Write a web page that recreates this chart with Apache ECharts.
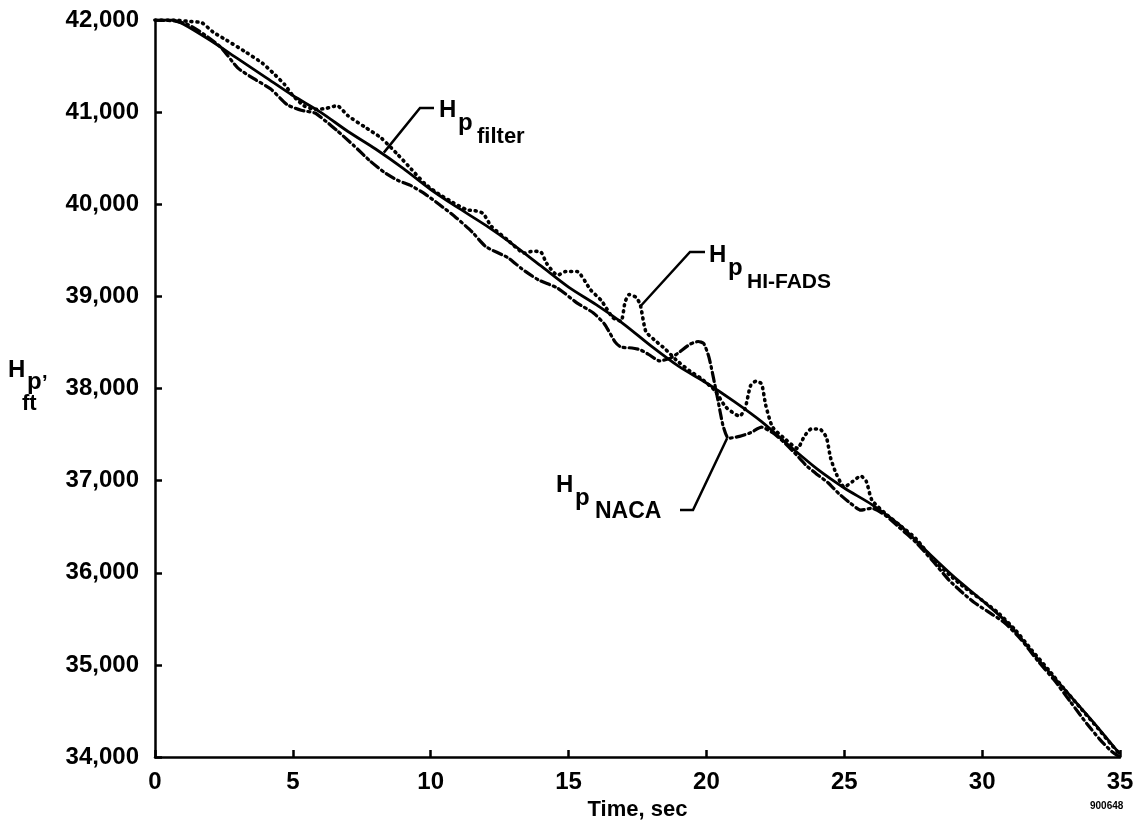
<!DOCTYPE html>
<html>
<head>
<meta charset="utf-8">
<script src="https://cdn.jsdelivr.net/npm/echarts/dist/echarts.min.js"></script>
<style>
html,body{margin:0;padding:0;background:#fff;}
#chart{width:1145px;height:839px;}
</style>
</head>
<body>
<div id="chart"></div>
<script>
// ---- data (time in sec, pressure altitude in ft) ----
var xTicks = [0, 5, 10, 15, 20, 25, 30, 35];
var yTicks = [34000, 35000, 36000, 37000, 38000, 39000, 40000, 41000, 42000];

var hpFilter = [
  [0,42000],[0.6,42000],[1,41960],[2,41780],[3,41580],[4,41380],[5,41180],[6,41000],
  [7,40790],[8,40600],[9,40390],[10,40160],[11,39960],[12,39770],[13,39560],[14,39330],
  [15,39100],[16,38910],[17,38700],[18,38460],[19,38240],[20,38060],[21,37860],[22,37640],
  [23,37380],[24,37130],[25,36920],[26,36740],[27,36520],[28,36230],[29,35950],[30,35700],
  [31,35430],[32,35070],[33,34730],[34,34390],[35,34030]
];

var hpHiFads = [
  [0,42000],[0.7,42000],[1.2,41985],[1.7,41970],[2.1,41870],[2.6,41780],[3.3,41650],[3.9,41530],
  [4.3,41420],[4.7,41300],[5.0,41180],[5.4,41070],[5.8,41030],[6.2,41040],[6.6,41070],[7.0,40960],
  [7.6,40840],[8.2,40720],[8.8,40540],[9.3,40380],[9.8,40220],[10.3,40110],[10.8,40020],[11.3,39940],
  [11.6,39930],[11.9,39900],[12.2,39760],[12.8,39610],[13.4,39470],[13.7,39490],[14.0,39480],[14.2,39360],
  [14.6,39230],[14.9,39270],[15.3,39270],[15.8,39070],[16.2,38950],[16.6,38770],[16.9,38730],[17.05,38940],
  [17.2,39020],[17.45,38990],[17.6,38910],[17.8,38620],[18.1,38530],[18.5,38430],[18.9,38310],[19.4,38190],
  [19.8,38110],[20.3,37980],[20.7,37800],[21.2,37700],[21.4,37780],[21.6,38030],[21.8,38080],[22.0,38050],
  [22.15,37820],[22.4,37580],[22.9,37440],[23.3,37350],[23.55,37480],[23.8,37560],[24.1,37560],[24.35,37470],
  [24.5,37250],[24.7,37080],[25.0,36930],[25.3,36990],[25.6,37050],[25.8,36990],[26.0,36790],[26.5,36640],
  [27.0,36520],[27.6,36370],[28.2,36150],[28.8,35980],[29.4,35830],[30.0,35700],[30.6,35560],[31.2,35380],
  [31.8,35160],[32.4,34950],[33.0,34730],[33.6,34520],[34.2,34310],[34.7,34130],[35,34030]
];

var hpNaca = [
  [0,42000],[0.7,41990],[1.2,41950],[1.8,41840],[2.4,41700],[3.0,41480],[3.6,41360],[4.2,41250],
  [4.8,41080],[5.3,41020],[5.8,40990],[6.2,40900],[6.6,40800],[7.2,40640],[7.8,40470],[8.3,40350],
  [8.8,40260],[9.3,40200],[9.8,40110],[10.3,40000],[10.9,39860],[11.5,39700],[12.0,39540],[12.8,39420],
  [13.3,39300],[13.9,39180],[14.6,39090],[15.3,38930],[15.9,38820],[16.3,38700],[16.7,38500],[16.9,38450],
  [17.3,38440],[17.6,38420],[17.9,38370],[18.3,38300],[18.7,38330],[19.0,38390],[19.4,38480],[19.7,38510],
  [19.9,38490],[20.1,38330],[20.4,37900],[20.6,37600],[20.8,37460],[21.2,37480],[21.6,37520],[22.0,37580],
  [22.4,37520],[22.8,37420],[23.2,37300],[23.6,37170],[24.0,37070],[24.4,36980],[24.8,36860],[25.2,36760],
  [25.6,36680],[26.0,36700],[26.5,36620],[27.0,36490],[27.6,36330],[28.2,36130],[28.8,35920],[29.3,35780],
  [29.7,35680],[30.2,35580],[30.8,35460],[31.4,35280],[32.0,35050],[32.6,34840],[33.2,34600],[33.8,34360],
  [34.3,34180],[34.7,34060],[35,34000]
];

// annotation anchor points on the curves (data coords)
var anchorFilter = [8.3, 40560];
var anchorHiFads = [17.6, 38890];
var anchorNaca = [20.75, 37460];

var FONT = "'Liberation Sans', Arial, Helvetica, sans-serif";

function fmt(v) {
  var s = String(Math.round(v));
  return s.replace(/\B(?=(\d{3})+(?!\d))/g, ',');
}

var chart = echarts.init(document.getElementById('chart'), null, {renderer: 'canvas'});

var axisCommon = {
  axisLine: {show: true, lineStyle: {color: '#000', width: 2.5}},
  axisTick: {show: true, inside: true, length: 7, lineStyle: {color: '#000', width: 2.5}},
  splitLine: {show: false},
  axisLabel: {color: '#000', fontFamily: FONT, fontWeight: 'bold', fontSize: 24}
};

chart.setOption({
  animation: false,
  backgroundColor: '#fff',
  grid: {left: 155, right: 25, top: 20, bottom: 82, containLabel: false},
  xAxis: Object.assign({}, axisCommon, {
    type: 'value',
    min: xTicks[0], max: xTicks[xTicks.length - 1], interval: 5,
    name: 'Time, sec', nameLocation: 'middle', nameGap: 29,
    nameTextStyle: {color: '#000', fontFamily: FONT, fontWeight: 'bold', fontSize: 22},
    axisLabel: Object.assign({}, axisCommon.axisLabel, {margin: 13})
  }),
  yAxis: Object.assign({}, axisCommon, {
    type: 'value',
    min: yTicks[0], max: yTicks[yTicks.length - 1], interval: 1000,
    axisLabel: Object.assign({}, axisCommon.axisLabel, {margin: 16, formatter: fmt})
  }),
  series: [
    {name: 'Hp filter', type: 'line', data: hpFilter, showSymbol: false, smooth: 0.3, z: 3,
     lineStyle: {color: '#000', width: 2.8}},
    {name: 'Hp HI-FADS', type: 'line', data: hpHiFads, showSymbol: false, smooth: 0.2, z: 2,
     lineStyle: {color: '#000', width: 3.6, type: [1, 5], cap: 'round'}},
    {name: 'Hp NACA', type: 'line', data: hpNaca, showSymbol: false, smooth: 0.2, z: 2,
     lineStyle: {color: '#000', width: 3.2, type: [9, 4, 2, 4], cap: 'round'}}
  ]
});

function P(d) { return chart.convertToPixel({gridIndex: 0}, d); }
function txt(x, y, s, size, va) {
  return {type: 'text', x: x, y: y, silent: true,
    style: {text: s, fill: '#000', font: 'bold ' + size + 'px ' + FONT,
      textAlign: 'left', textVerticalAlign: va || 'middle'}};
}
function leader(points) {
  return {type: 'polyline', silent: true, shape: {points: points},
    style: {stroke: '#000', lineWidth: 2.5, fill: null}};
}

var aF = P(anchorFilter), aH = P(anchorHiFads), aN = P(anchorNaca);

chart.setOption({
  graphic: [
    leader([aF, [420, 108], [434, 108]]),
    txt(439, 110, 'H', 24), txt(458, 123, 'p', 24), txt(477, 137, 'filter', 22),
    leader([aH, [690, 252], [705, 252]]),
    txt(709, 255, 'H', 24), txt(728, 268, 'p', 24), txt(747, 282, 'HI-FADS', 21),
    leader([aN, [693, 510], [680, 510]]),
    txt(556, 485, 'H', 24), txt(575, 498, 'p', 24), txt(595, 512, 'NACA', 23),
    // y-axis title
    txt(8, 370, 'H', 24), txt(27, 382, 'p', 24), txt(42, 372, ',', 20),
    txt(22, 404, 'ft', 22),
    txt(1090, 806, '900648', 10)
  ]
});
</script>
</body>
</html>
